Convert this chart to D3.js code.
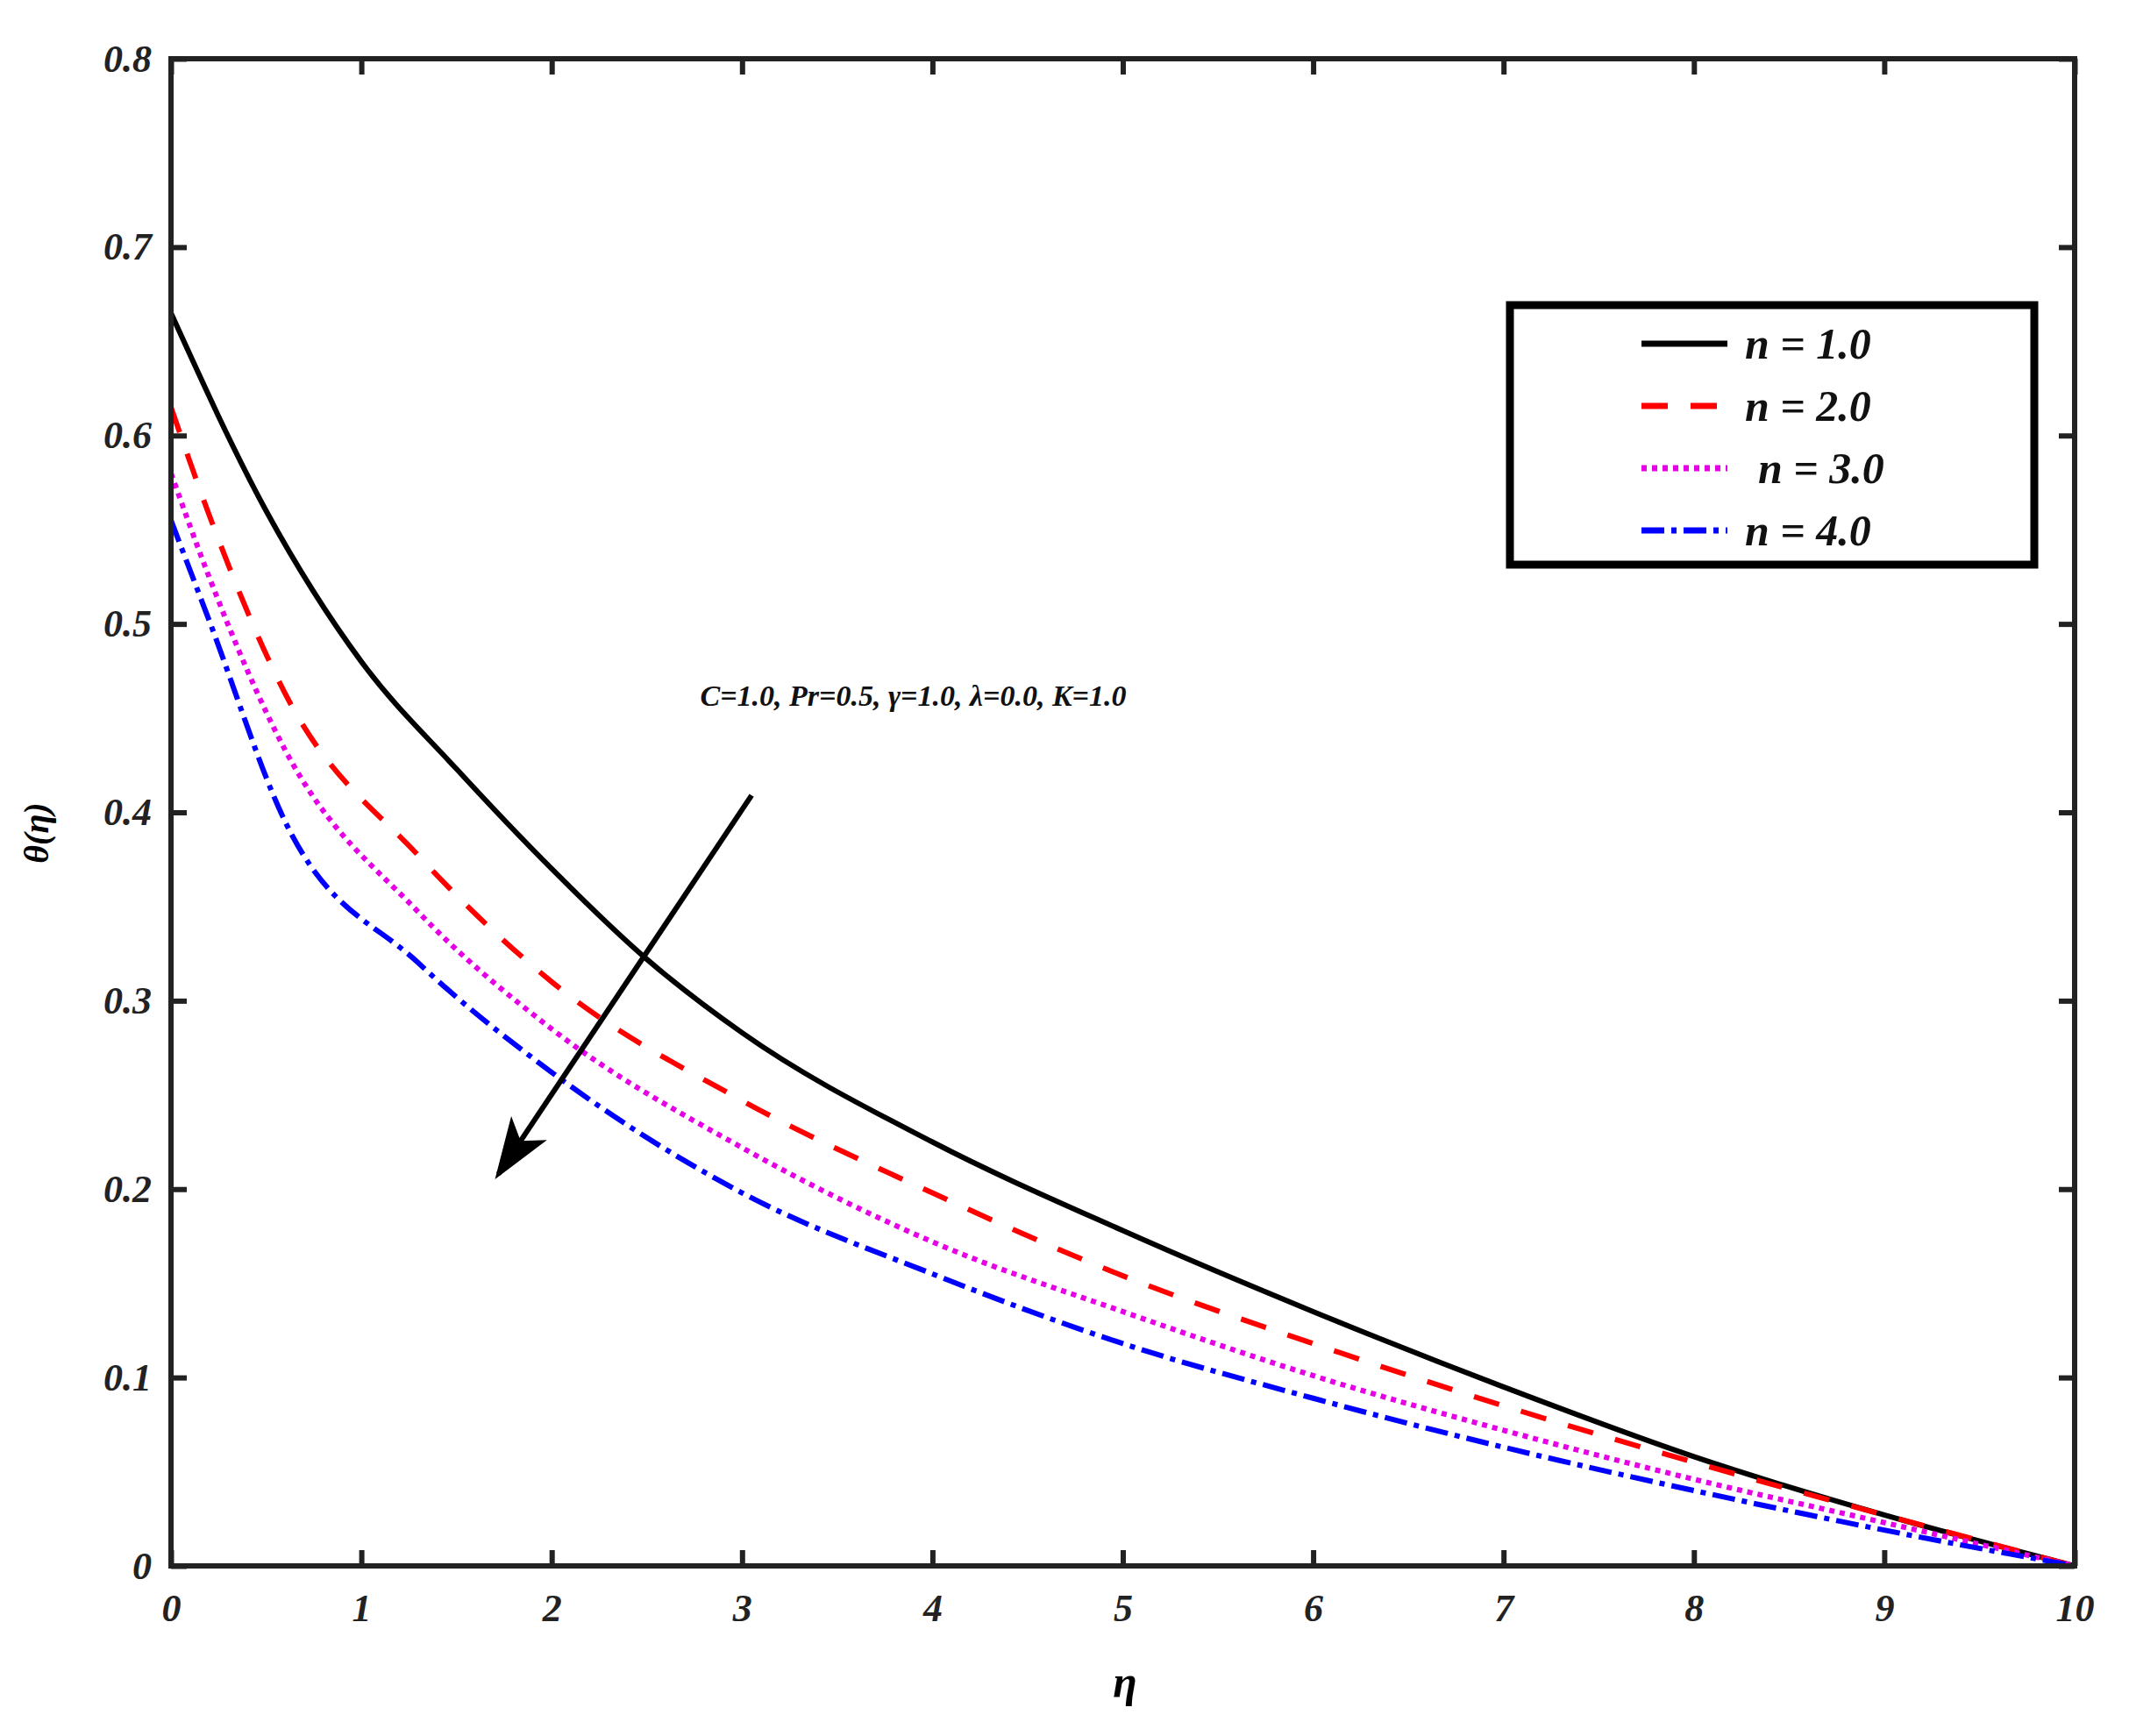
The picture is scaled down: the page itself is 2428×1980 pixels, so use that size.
<!DOCTYPE html>
<html><head><meta charset="utf-8">
<script src="https://cdn.jsdelivr.net/npm/d3@7/dist/d3.min.js"></script>
<style>body{margin:0;background:#fff}svg text{font-family:"Liberation Serif","Times New Roman",serif;font-weight:bold;font-style:italic}</style>
</head><body>
<script>
const eta_n1 = [0, 0.5, 1, 1.5, 2, 2.5, 3, 4, 5, 6, 7, 8, 9, 10];
const theta_n1 = [0.665, 0.560, 0.480, 0.423, 0.370, 0.322, 0.283, 0.225, 0.178, 0.135, 0.095, 0.058, 0.027, 0];
const eta_rest = [0, 0.2, 0.6, 1.3, 2, 3, 4, 5, 6, 7, 8, 9, 10];
const theta_n2 = [0.615, 0.558, 0.463, 0.377, 0.310, 0.247, 0.198, 0.154, 0.118, 0.085, 0.055, 0.027, 0];
const theta_n3 = [0.580, 0.525, 0.433, 0.347, 0.285, 0.222, 0.172, 0.135, 0.101, 0.072, 0.046, 0.023, 0];
const theta_n4 = [0.555, 0.502, 0.395, 0.320, 0.262, 0.198, 0.155, 0.118, 0.089, 0.063, 0.040, 0.019, 0];
const seriesLabels = ["n = 1.0", "n = 2.0", "n = 3.0", "n = 4.0"];
const xTicks = [0,1,2,3,4,5,6,7,8,9,10];
const yTicks = [0,0.1,0.2,0.3,0.4,0.5,0.6,0.7,0.8];

const W=2428,H=1980, L=195,R=2366,T=67,B=1786;
const svg=d3.select("body").append("svg").attr("width",W).attr("height",H);
const x=d3.scaleLinear().domain([0,10]).range([L,R]);
const y=d3.scaleLinear().domain([0,0.8]).range([B,T]);
const styles=[{c:"#000",d:null},{c:"#ff0000",d:"30,26"},{c:"#e600e6",d:"6,6"},{c:"#0000ff",d:"26,8,6,8"}];
const data=[[eta_n1,theta_n1],[eta_rest,theta_n2],[eta_rest,theta_n3],[eta_rest,theta_n4]];
data.forEach(([ex,s],k)=>{
  const line=d3.line().x((d,i)=>x(ex[i])).y(d=>y(d)).curve(d3.curveMonotoneX);
  svg.append("path").attr("d",line(s)).attr("fill","none")
  .attr("stroke",styles[k].c).attr("stroke-width",6).attr("stroke-dasharray",styles[k].d);});

const fmtY=d=>d===0?"0":d3.format(".1f")(d);
const style=g=>{g.select(".domain").remove();g.selectAll("text").attr("font-size",44).attr("fill","#222");
  g.selectAll("line").attr("stroke","#222").attr("stroke-width",6);};
const gx=svg.append("g").attr("transform",`translate(0,${B})`).call(d3.axisBottom(x).tickValues(xTicks).tickFormat(d3.format("d")).tickSize(0).tickPadding(32));
style(gx); gx.selectAll(".tick").append("line").attr("y2",-18).attr("stroke","#222").attr("stroke-width",6);
const gy=svg.append("g").attr("transform",`translate(${L},0)`).call(d3.axisLeft(y).tickValues(yTicks).tickFormat(fmtY).tickSize(0).tickPadding(22));
style(gy); gy.selectAll(".tick").append("line").attr("x2",18).attr("stroke","#222").attr("stroke-width",6);
const gt=svg.append("g").attr("transform",`translate(0,${T})`).call(d3.axisTop(x).tickValues(xTicks).tickFormat("").tickSize(0));
style(gt); gt.selectAll(".tick").append("line").attr("y2",18).attr("stroke","#222").attr("stroke-width",6);
const gr=svg.append("g").attr("transform",`translate(${R},0)`).call(d3.axisRight(y).tickValues(yTicks).tickFormat("").tickSize(0));
style(gr); gr.selectAll(".tick").append("line").attr("x2",-18).attr("stroke","#222").attr("stroke-width",6);
svg.append("rect").attr("x",L).attr("y",T).attr("width",R-L).attr("height",B-T).attr("fill","none").attr("stroke","#222").attr("stroke-width",6);

svg.append("text").attr("x",1283).attr("y",1935).attr("text-anchor","middle").attr("font-size",50).text("η");
svg.append("text").attr("transform","translate(55,950) rotate(-90)").attr("text-anchor","middle").attr("font-size",40).text("θ(η)");

const lg=svg.append("g");
lg.append("rect").attr("x",1722).attr("y",348).attr("width",598).attr("height",296).attr("fill","#fff").attr("stroke","#000").attr("stroke-width",9);
seriesLabels.forEach((t,k)=>{const yy=392+k*71;
  lg.append("line").attr("x1",1872).attr("x2",1970).attr("y1",yy).attr("y2",yy).attr("stroke",styles[k].c).attr("stroke-width",7).attr("stroke-dasharray",styles[k].d);
  lg.append("text").attr("x",k===2?2005:1990).attr("y",yy+17).attr("font-size",50).attr("fill","#111").text(t);});

svg.append("text").attr("x",x(2.78)).attr("y",y(0.462)+12).attr("font-size",34).attr("fill","#111").text("C=1.0, Pr=0.5, γ=1.0, λ=0.0, K=1.0");
svg.append("defs").append("marker").attr("id","ah").attr("viewBox","0 0 10 10").attr("refX",9).attr("refY",5)
  .attr("markerWidth",70).attr("markerHeight",70).attr("markerUnits","userSpaceOnUse").attr("orient","auto")
  .append("path").attr("d","M0,1.5 L10,5 L0,8.5 L2.5,5 Z").attr("fill","#000");
svg.append("line").attr("x1",x(3.05)).attr("y1",y(0.409)).attr("x2",x(1.72)).attr("y2",y(0.208))
  .attr("stroke","#000").attr("stroke-width",6).attr("marker-end","url(#ah)");
</script></body></html>
